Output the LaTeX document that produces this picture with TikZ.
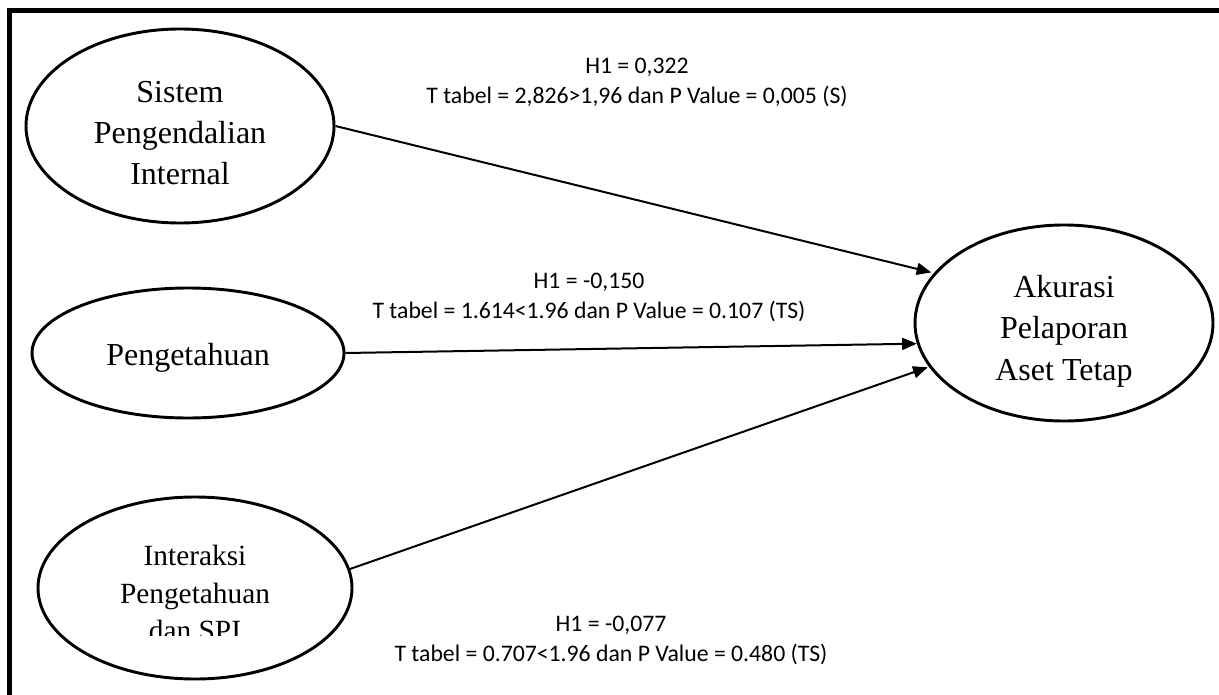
\documentclass[tikz,border=0pt]{standalone}
\usepackage{fontspec}
\setmainfont{Liberation Serif}
\newfontfamily\lblfont{Carlito}
\usetikzlibrary{shapes.geometric,arrows.meta}
\tikzset{
  var/.style={ellipse, draw, line width=2.2pt, inner sep=0pt},
  vartext/.style={align=center, inner sep=0pt, font=\fontsize{24}{31}\selectfont},
  lbl/.style={align=center, inner sep=0pt, font=\lblfont\fontsize{17.8}{22.5}\selectfont},
  path/.style={line width=1.5pt, -{Triangle[length=11pt,width=9pt]}},
}
\begin{document}
\begin{tikzpicture}[x=0.75pt,y=-0.75pt]
\clip (0,0) rectangle (1219,695);
\useasboundingbox (0,0) rectangle (1219,695);
\draw[line width=3.75pt] (9.5,710) -- (9.5,10.5) -- (1230,10.5);

\node[var, minimum width=231pt, minimum height=145.5pt] (spi) at (180,126) {};
\node[vartext] (spiT) at (180,133) {Sistem\\Pengendalian\\Internal};

\node[var, minimum width=234pt, minimum height=97.5pt] (peng) at (188,353) {};
\node[vartext, anchor=base] (pengT) at (188,365) {Pengetahuan};

\node[var, minimum width=235.5pt, minimum height=136.5pt] (int) at (195,588) {};
\begin{scope}
\clip (100,520) rectangle (300,635);
\node[vartext, font=\fontsize{22}{28}\selectfont] (intT) at (195,593) {Interaksi\\Pengetahuan\\dan SPI};
\end{scope}

\node[var, minimum width=223.5pt, minimum height=147pt] (ak) at (1064,323) {};
\node[vartext] (akT) at (1064,331) {Akurasi\\Pelaporan\\Aset Tetap};

\draw[path, shorten >=2pt] (spi.east) -- (ak.159);
\draw[path] (peng.east) -- (ak.188);
\draw[path, shorten >=1pt] (int.7) -- (ak.198);

\node[lbl] (l1) at (637,82) {H1 = 0,322\\T tabel = 2,826>1,96 dan P Value = 0,005 (S)};
\node[lbl] (l2) at (589,297) {H1 = -0,150\\T tabel = 1.614<1.96 dan P Value = 0.107 (TS)};
\node[lbl] (l3) at (611,640) {H1 = -0,077\\T tabel = 0.707<1.96 dan P Value = 0.480 (TS)};
\end{tikzpicture}
\end{document}
